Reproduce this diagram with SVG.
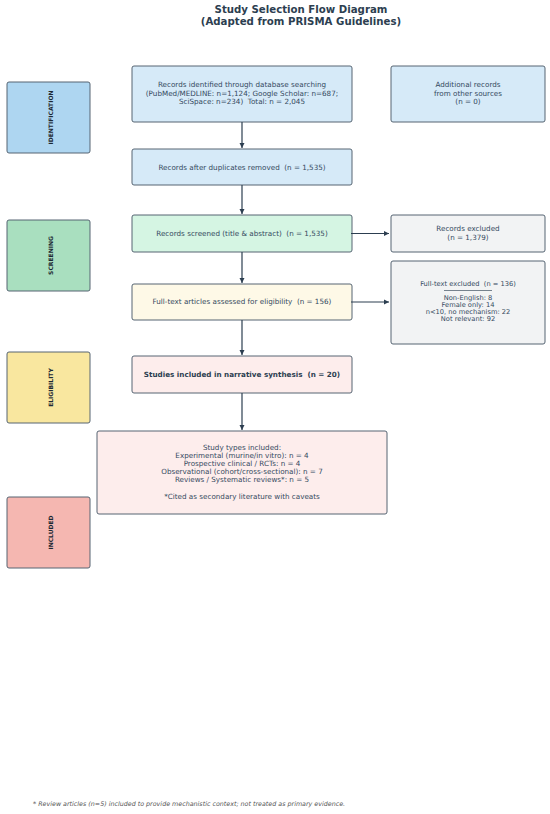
<svg xmlns="http://www.w3.org/2000/svg" width="550" height="814" viewBox="0 0 550 814">
<style>
text{font-family:"DejaVu Sans","Liberation Sans",sans-serif;fill:#34495e;text-anchor:middle;white-space:pre}
.title{font-size:10.2px;font-weight:bold;fill:#2c3e50}
.t{font-size:7.2px}
.s{font-size:6.7px}
.lab{font-size:6px;font-weight:bold;fill:#1c2833}
.box{stroke:#566573;stroke-width:1}
.conn line{stroke:#2c3e50;stroke-width:1.2}
.foot{font-size:6.35px;font-style:italic;fill:#555;text-anchor:start}
</style>
<defs>
<marker id="ah" markerWidth="6" markerHeight="6" refX="5" refY="3" orient="auto" markerUnits="userSpaceOnUse">
<path d="M0,0.5 L5,3 L0,5.5 Z" fill="#2c3e50"/>
</marker>
</defs>
<rect width="550" height="814" fill="#fff"/>
<g id="title">
<text class="title" x="301" y="13">Study Selection Flow Diagram</text>
<text class="title" x="301" y="24.5">(Adapted from PRISMA Guidelines)</text>
</g>
<g id="lab-identification"><rect class="box" x="7" y="82" width="83" height="71" rx="2" fill="#aed6f1"/><text class="lab" transform="translate(50.5,117.5) rotate(-90)" y="2">IDENTIFICATION</text></g>
<g id="lab-screening"><rect class="box" x="7" y="220" width="83" height="71" rx="2" fill="#a9dfbf"/><text class="lab" transform="translate(50.5,255.5) rotate(-90)" y="2">SCREENING</text></g>
<g id="lab-eligibility"><rect class="box" x="7" y="352" width="83" height="71" rx="2" fill="#f9e79f"/><text class="lab" transform="translate(50.5,387.5) rotate(-90)" y="2">ELIGIBILITY</text></g>
<g id="lab-included"><rect class="box" x="7" y="497" width="83" height="71" rx="2" fill="#f5b7b1"/><text class="lab" transform="translate(50.5,532.5) rotate(-90)" y="2">INCLUDED</text></g>

<g id="identified"><rect class="box" x="132" y="66" width="220" height="56" rx="2" fill="#d6eaf8"/>
<text class="t" x="242" y="87">Records identified through database searching</text>
<text class="t" x="242" y="95.5">(PubMed/MEDLINE: n=1,124; Google Scholar: n=687;</text>
<text class="t" x="242" y="104">SciSpace: n=234)  Total: n = 2,045</text></g>
<g id="additional"><rect class="box" x="391" y="66" width="154" height="56" rx="2" fill="#d6eaf8"/>
<text class="t" x="468" y="87">Additional records</text>
<text class="t" x="468" y="95.5">from other sources</text>
<text class="t" x="468" y="104">(n = 0)</text></g>
<g id="duplicates"><rect class="box" x="132" y="149" width="220" height="36" rx="2" fill="#d6eaf8"/>
<text class="t" x="242" y="169.5">Records after duplicates removed  (n = 1,535)</text></g>
<g id="screened"><rect class="box" x="132" y="215" width="220" height="37" rx="2" fill="#d5f5e3"/>
<text class="t" x="242" y="236">Records screened (title &amp; abstract)  (n = 1,535)</text></g>
<g id="excluded"><rect class="box" x="391" y="215" width="154" height="37" rx="2" fill="#f2f3f4"/>
<text class="t" x="468" y="231">Records excluded</text>
<text class="t" x="468" y="239.5">(n = 1,379)</text></g>
<g id="fulltext"><rect class="box" x="132" y="284" width="220" height="36" rx="2" fill="#fef9e7"/>
<text class="t" x="242" y="304">Full-text articles assessed for eligibility  (n = 156)</text></g>
<g id="ft-excluded"><rect class="box" x="391" y="261" width="154" height="83" rx="2" fill="#f2f3f4"/>
<text class="s" x="468" y="286">Full-text excluded  (n = 136)</text>
<line x1="444" y1="290.5" x2="492" y2="290.5" stroke="#566573" stroke-width="0.8"/>
<text class="s" x="468" y="300">Non-English: 8</text>
<text class="s" x="468" y="307">Female only: 14</text>
<text class="s" x="468" y="314">n&lt;10, no mechanism: 22</text>
<text class="s" x="468" y="321">Not relevant: 92</text></g>
<g id="included"><rect class="box" x="132" y="356" width="220" height="37" rx="2" fill="#fdedec"/>
<text class="t" x="242" y="377" font-weight="bold" style="fill:#2c3e50">Studies included in narrative synthesis  (n = 20)</text></g>
<g id="types"><rect class="box" x="97" y="431" width="290" height="83" rx="2" fill="#fdedec"/>
<text class="t" x="242" y="450">Study types included:</text>
<text class="t" x="242" y="458">Experimental (murine/in vitro): n = 4</text>
<text class="t" x="242" y="466">Prospective clinical / RCTs: n = 4</text>
<text class="t" x="242" y="474">Observational (cohort/cross-sectional): n = 7</text>
<text class="t" x="242" y="482">Reviews / Systematic reviews*: n = 5</text>
<text class="t" x="242" y="498.5">*Cited as secondary literature with caveats</text></g>

<g id="connectors" class="conn">
<line x1="242" y1="122" x2="242" y2="148" marker-end="url(#ah)"/>
<line x1="242" y1="185" x2="242" y2="214" marker-end="url(#ah)"/>
<line x1="242" y1="252" x2="242" y2="283" marker-end="url(#ah)"/>
<line x1="242" y1="320" x2="242" y2="355" marker-end="url(#ah)"/>
<line x1="242" y1="393" x2="242" y2="430" marker-end="url(#ah)"/>
<line x1="351" y1="233.5" x2="389" y2="233.5" marker-end="url(#ah)"/>
<line x1="351" y1="302" x2="389" y2="302" marker-end="url(#ah)"/>
</g>
<text class="foot" x="33" y="806">* Review articles (n=5) included to provide mechanistic context; not treated as primary evidence.</text>
</svg>
